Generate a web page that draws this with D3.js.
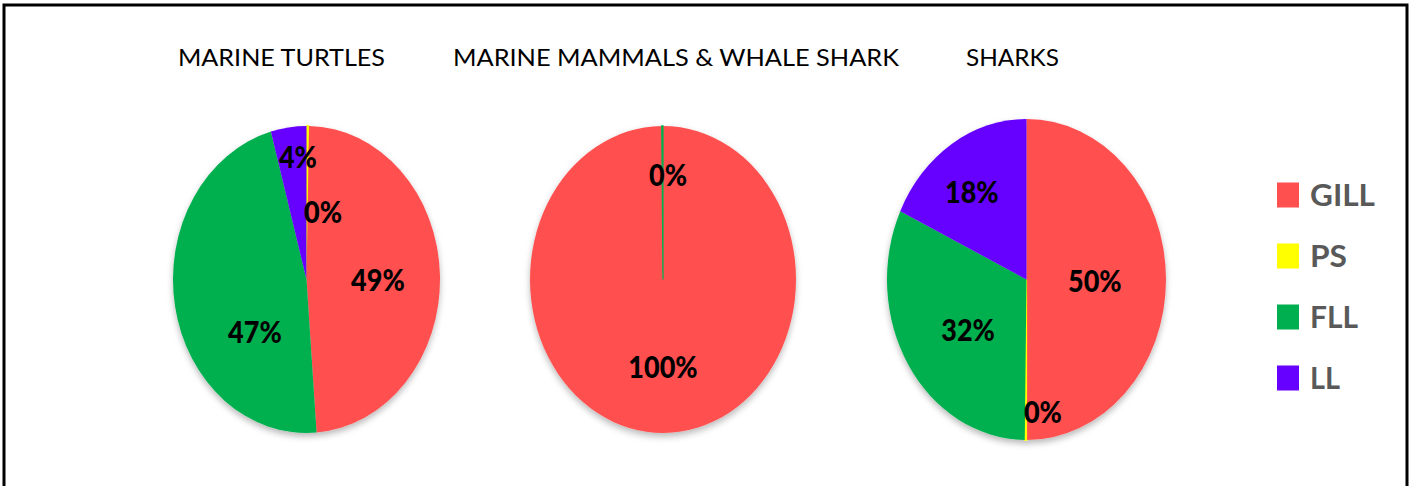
<!DOCTYPE html>
<html>
<head>
<meta charset="utf-8">
<script src="https://cdn.jsdelivr.net/npm/d3@7"></script>
<style>
  html, body { margin: 0; padding: 0; background: #fff; }
  svg { display: block; }
</style>
</head>
<body>
<svg id="chart" width="1413" height="486"></svg>
<script>
// ---------- data ----------
const categories = ["GILL", "PS", "FLL", "LL"];
const colors = ["#FF5050", "#FFFF00", "#00B050", "#6600FF"];
const pieTitles = ["MARINE TURTLES", "MARINE MAMMALS & WHALE SHARK", "SHARKS"];
// percentage values per gear (GILL, PS, FLL, LL)
const turtlesValues = [48.5, 0.3, 46.9, 4.3];
const mammalsValues = [99.85, 0, 0.15, 0];
const sharksValues  = [50.0, 0.2, 31.8, 18.0];
// drawing order of the slices (clockwise from 12 o'clock), as indices into categories
const turtlesOrder = [1, 0, 2, 3];
const mammalsOrder = [0, 1, 3, 2];
const sharksOrder  = [0, 1, 2, 3];

// ---------- layout ----------
const W = 1413, H = 486;
const svg = d3.select("#chart");

const defs = svg.append("defs");
const f = defs.append("filter").attr("id", "shadow")
  .attr("x", "-10%").attr("y", "-10%").attr("width", "120%").attr("height", "125%");
f.append("feDropShadow").attr("dx", 0).attr("dy", 3).attr("stdDeviation", 3)
  .attr("flood-color", "#000").attr("flood-opacity", 0.28);

// frame (no bottom edge)
svg.append("path")
  .attr("d", `M4,${H} L4,5 L1407,5 L1407,${H}`)
  .attr("fill", "none").attr("stroke", "#000").attr("stroke-width", 3);

const pies = [
  { values: turtlesValues, order: turtlesOrder, cx: 306.5, cy: 279.5, rx: 133.5, ry: 153.5,
    labelPos: { 0: [90, 0.535], 1: [15.7, 0.457], 2: [228.5, 0.516], 3: [355.4, 0.803] } },
  { values: mammalsValues, order: mammalsOrder, cx: 663, cy: 279.5, rx: 133, ry: 153.5,
    labelPos: { 0: [180, 0.57], 2: [3.2, 0.68] } },
  { values: sharksValues, order: sharksOrder, cx: 1026.5, cy: 279.5, rx: 139.5, ry: 160.5,
    labelPos: { 0: [91, 0.49], 1: [171.9, 0.834], 2: [233.1, 0.524], 3: [324.3, 0.671] } }
];

const titleLayout = [
  { x: 178, len: 207 },
  { x: 453, len: 446 },
  { x: 966, len: 93 }
];

pieTitles.forEach((t, i) => {
  svg.append("text")
    .attr("x", titleLayout[i].x).attr("y", 66)
    .attr("font-family", "Lato, 'Open Sans', sans-serif")
    .attr("font-size", 24)
    .attr("fill", "#000")
    .attr("textLength", titleLayout[i].len)
    .attr("lengthAdjust", "spacingAndGlyphs")
    .text(t);
});

pies.forEach(p => {
  const data = p.order.map(i => ({ idx: i, value: p.values[i] }));
  const pie = d3.pie().sort(null).value(d => d.value);
  const arcs = pie(data);
  const arc = d3.arc().innerRadius(0).outerRadius(p.rx);

  const g = svg.append("g")
    .attr("transform", `translate(${p.cx},${p.cy}) scale(1,${p.ry / p.rx})`);
  const sg = g.append("g").attr("filter", "url(#shadow)");
  sg.selectAll("path").data(arcs).enter().append("path")
    .attr("d", arc)
    .attr("fill", d => colors[d.data.idx])
    .attr("stroke", d => d.data.value > 0 && d.data.value < 1 ? colors[d.data.idx] : "none")
    .attr("stroke-width", d => d.data.value > 0 && d.data.value < 1 ? 1.2 : 0);

  // labels
  arcs.forEach(a => {
    const lp = p.labelPos[a.data.idx];
    if (!lp) return;
    const ang = lp[0] * Math.PI / 180;
    const x = p.cx + Math.sin(ang) * lp[1] * p.rx;
    const y = p.cy - Math.cos(ang) * lp[1] * p.ry;
    svg.append("text")
      .attr("transform", `translate(${x},${y}) scale(1,1.15)`)
      .attr("text-anchor", "middle")
      .attr("dy", "0.36em")
      .attr("font-family", "Lato, 'Open Sans', sans-serif")
      .attr("font-weight", 900)
      .attr("font-size", 27)
      .attr("fill", "#000")
      .text(Math.round(a.data.value) + "%");
  });
});

// legend
const legendY = d3.scalePoint().domain(categories).range([195, 378]);
const legendLen = { GILL: 65, PS: 37, FLL: 48, LL: 30 };
const lg = svg.append("g");
categories.forEach((c, i) => {
  const y = legendY(c);
  lg.append("rect")
    .attr("x", 1277).attr("y", y - 12.5).attr("width", 22).attr("height", 25)
    .attr("fill", colors[i]);
  lg.append("text")
    .attr("x", 1310).attr("y", y + 11)
    .attr("font-family", "Lato, 'Open Sans', sans-serif")
    .attr("font-weight", "bold")
    .attr("font-size", 30)
    .attr("fill", "#595959")
    .attr("textLength", legendLen[c])
    .attr("lengthAdjust", "spacingAndGlyphs")
    .text(c);
});
</script>
</body>
</html>
